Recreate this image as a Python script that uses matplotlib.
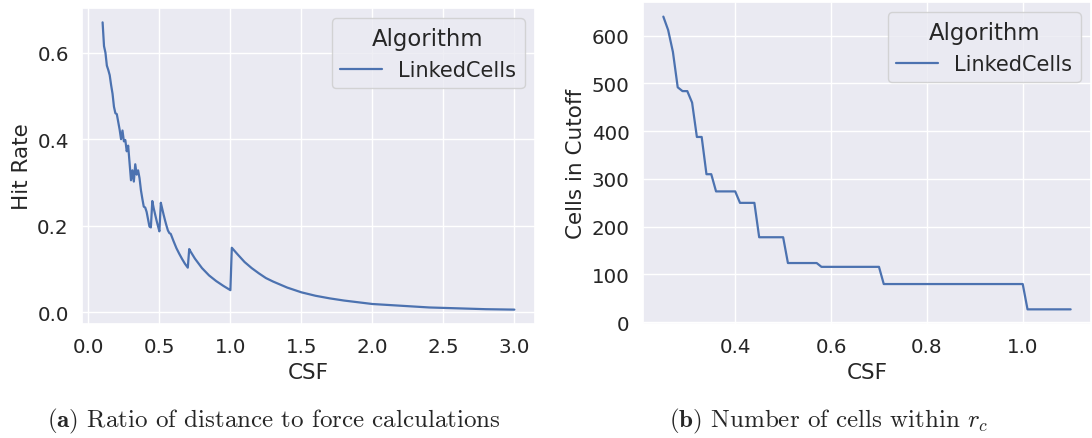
import matplotlib
matplotlib.use("Agg")
import matplotlib.pyplot as plt
import seaborn as sns

# --- Hit rate over cell size factor ---
csf_hit = [0.10, 0.11, 0.12, 0.13, 0.14, 0.15, 0.16, 0.17, 0.18, 0.19,
           0.20, 0.21, 0.22, 0.23, 0.24, 0.25, 0.26, 0.27, 0.28, 0.29,
           0.30, 0.31, 0.32, 0.33, 0.34, 0.35, 0.36, 0.37, 0.38, 0.39,
           0.40, 0.41, 0.42, 0.43, 0.44, 0.45, 0.46, 0.47, 0.48, 0.49,
           0.50, 0.51, 0.52, 0.53, 0.54, 0.55, 0.56, 0.57, 0.58, 0.60,
           0.62, 0.64, 0.66, 0.68, 0.70, 0.71, 0.72, 0.75, 0.80, 0.85,
           0.90, 0.95, 0.99, 1.00, 1.01, 1.05, 1.10, 1.15, 1.20, 1.25,
           1.30, 1.40, 1.50, 1.60, 1.70, 1.80, 1.90, 2.00, 2.20, 2.40,
           2.60, 2.80, 3.00]
hit_rate = [0.670, 0.615, 0.600, 0.570, 0.560, 0.548, 0.525, 0.505, 0.475, 0.460,
            0.458, 0.440, 0.422, 0.400, 0.420, 0.395, 0.398, 0.372, 0.385, 0.345,
            0.305, 0.328, 0.302, 0.342, 0.318, 0.328, 0.310, 0.282, 0.262, 0.244,
            0.242, 0.232, 0.215, 0.198, 0.196, 0.257, 0.240, 0.226, 0.212, 0.199,
            0.187, 0.253, 0.239, 0.225, 0.212, 0.200, 0.189, 0.183, 0.181, 0.164,
            0.148, 0.135, 0.123, 0.112, 0.103, 0.146, 0.140, 0.124, 0.102, 0.085,
            0.072, 0.061, 0.053, 0.051, 0.149, 0.134, 0.116, 0.102, 0.090, 0.079,
            0.071, 0.057, 0.046, 0.038, 0.032, 0.027, 0.023, 0.019, 0.015, 0.011,
            0.009, 0.007, 0.006]

# --- Cells within cutoff (corner points of the step curve) ---
csf_cells = [0.25, 0.26, 0.27, 0.28, 0.29, 0.30, 0.31, 0.32, 0.33, 0.34,
             0.35, 0.36, 0.40, 0.41, 0.44, 0.45, 0.50, 0.51, 0.57, 0.58,
             0.70, 0.71, 1.00, 1.01, 1.10]
cells_in_cutoff = [640, 612, 566, 492, 484, 484, 460, 388, 388, 310,
                   310, 274, 274, 250, 250, 178, 178, 124, 124, 116,
                   116, 80, 80, 27, 27]

sns.set_theme(style="darkgrid", font_scale=1.3)
plt.rcParams["mathtext.fontset"] = "cm"
plt.rcParams["axes.labelsize"] = 15.5
line_color = sns.color_palette("deep")[0]

fig = plt.figure(figsize=(10.92, 4.39), dpi=100)
ax1 = fig.add_axes([0.0751, 0.2597, 0.4148, 0.7198])
ax2 = fig.add_axes([0.5888, 0.2597, 0.4103, 0.7335])

ax1.plot(csf_hit, hit_rate, color=line_color, lw=1.6, label="LinkedCells")
ax1.set_xlabel("CSF")
ax1.set_ylabel("Hit Rate")
ax1.set_xticks([0.0, 0.5, 1.0, 1.5, 2.0, 2.5, 3.0])
ax1.set_yticks([0.0, 0.2, 0.4, 0.6])
ax1.legend(title="Algorithm", loc="upper right", fontsize=15.0, title_fontsize=16.4)

ax2.plot(csf_cells, cells_in_cutoff, color=line_color, lw=1.6, label="LinkedCells")
ax2.set_xlabel("CSF")
ax2.set_ylabel("Cells in Cutoff")
ax2.set_xticks([0.4, 0.6, 0.8, 1.0])
ax2.set_yticks([0, 100, 200, 300, 400, 500, 600])
ax2.legend(title="Algorithm", loc="upper right", fontsize=15.0, title_fontsize=16.4)

# sub-captions
fig.text(0.251, 0.039, r"$\mathbf{(a)}$ Ratio of distance to force calculations",
         ha="center", va="center", fontsize=18, family="cmr10")
fig.text(0.759, 0.039, r"$\mathbf{(b)}$ Number of cells within $r_c$",
         ha="center", va="center", fontsize=18, family="cmr10")

fig.savefig("out.png", dpi=100)
